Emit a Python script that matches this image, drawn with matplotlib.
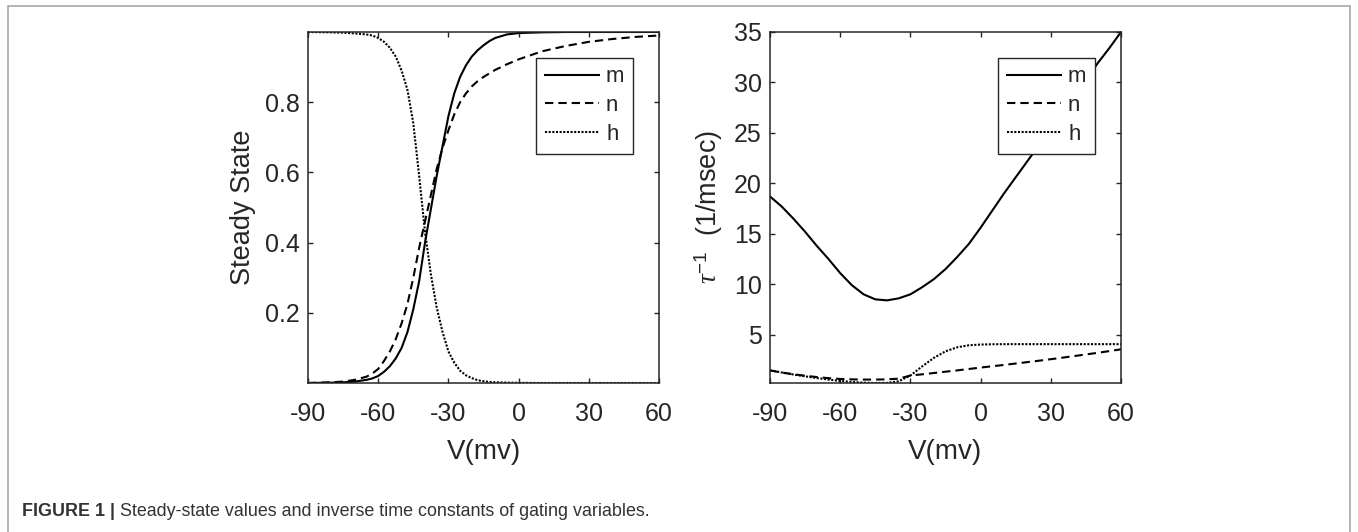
import matplotlib.pyplot as plt
from matplotlib.patches import Rectangle

# membrane potential grids (mV)
v_ss = [-90, -80, -75, -70, -65, -62.5, -60, -57.5, -55, -52.5, -50, -47.5, -45,
        -42.5, -40, -37.5, -35, -32.5, -30, -27.5, -25, -22.5, -20, -17.5, -15,
        -12.5, -10, -5, 0, 10, 20, 30, 40, 50, 60]
v_tau = [-90, -85, -80, -75, -70, -65, -60, -55, -50, -45, -40, -35, -30, -25, -20,
         -15, -10, -5, 0, 5, 10, 15, 20, 25, 30, 35, 40, 45, 50, 55, 60]

# steady state values
m_inf = [0.0, 0.001, 0.002, 0.004, 0.009, 0.013, 0.02, 0.032, 0.048, 0.07, 0.10,
         0.145, 0.21, 0.29, 0.40, 0.495, 0.59, 0.675, 0.76, 0.825, 0.872, 0.905,
         0.93, 0.948, 0.962, 0.974, 0.983, 0.993, 0.997, 0.999, 1.0, 1.0, 1.0, 1.0, 1.0]
n_inf = [0.0, 0.002, 0.004, 0.009, 0.018, 0.027, 0.04, 0.063, 0.09, 0.125, 0.17,
         0.225, 0.30, 0.385, 0.46, 0.535, 0.61, 0.67, 0.72, 0.765, 0.80, 0.825,
         0.845, 0.86, 0.872, 0.882, 0.892, 0.908, 0.922, 0.945, 0.96, 0.972, 0.98,
         0.986, 0.99]
h_inf = [1.0, 0.999, 0.998, 0.996, 0.993, 0.99, 0.983, 0.972, 0.955, 0.93, 0.89,
         0.835, 0.74, 0.59, 0.43, 0.31, 0.215, 0.145, 0.09, 0.058, 0.035, 0.022,
         0.014, 0.008, 0.005, 0.003, 0.002, 0.001, 0.0005, 0.0, 0.0, 0.0, 0.0, 0.0, 0.0]

# inverse time constants (1/msec)
m_rate = [18.7, 17.7, 16.5, 15.2, 13.8, 12.5, 11.1, 9.9, 9.0, 8.5, 8.4, 8.6, 9.0,
          9.7, 10.5, 11.5, 12.7, 14.0, 15.6, 17.3, 19.0, 20.6, 22.2, 23.8, 25.5,
          27.0, 28.6, 30.2, 31.9, 33.4, 35.0]
n_rate = [1.46, 1.25, 1.08, 0.93, 0.80, 0.69, 0.61, 0.57, 0.55, 0.55, 0.57, 0.64,
          0.95, 1.07, 1.2, 1.33, 1.46, 1.6, 1.74, 1.87, 2.0, 2.14, 2.28, 2.42, 2.57,
          2.72, 2.88, 3.04, 3.2, 3.37, 3.55]
h_rate = [1.46, 1.25, 1.05, 0.87, 0.70, 0.55, 0.41, 0.31, 0.24, 0.21, 0.22, 0.38,
          0.95, 1.85, 2.7, 3.35, 3.75, 3.95, 4.02, 4.05, 4.06, 4.06, 4.06, 4.06,
          4.06, 4.06, 4.06, 4.06, 4.06, 4.06, 4.06]

labels = ['m', 'n', 'h']
xticks = [-90, -60, -30, 0, 30, 60]

plt.rcParams['font.family'] = ['Liberation Sans', 'DejaVu Sans']
plt.rcParams['axes.unicode_minus'] = False
plt.rcParams['mathtext.fontset'] = 'custom'
plt.rcParams['mathtext.it'] = 'Liberation Serif:italic'
plt.rcParams['mathtext.rm'] = 'Liberation Sans'
gray = '#262626'
styles = ['-', (0, (4, 2.4)), (0, (1, 0.75))]

W, H = 1358, 532
fig = plt.figure(figsize=(W / 100, H / 100), dpi=100)
fig.patches.append(Rectangle((8 / W, -0.05), 1342 / W, 1.05 - 6 / H,
                             transform=fig.transFigure, fill=False,
                             edgecolor='#a8a8a8', linewidth=1.2))

ax1 = fig.add_axes([308 / W, 149 / H, 351 / W, 351 / H])
ax2 = fig.add_axes([770 / W, 149 / H, 351 / W, 351 / H])


def style_axes(ax):
    for s in ax.spines.values():
        s.set_color(gray)
        s.set_linewidth(1.1)
    ax.tick_params(direction='in', top=True, right=True, length=3.8, width=1,
                   color=gray, labelcolor=gray, labelsize=18)
    ax.tick_params(axis='x', pad=14)
    ax.tick_params(axis='y', pad=6)
    ax.set_xlim(-90, 60)
    ax.set_xticks(xticks)
    ax.set_xlabel('V(mv)', fontsize=20, color=gray, labelpad=9)


for ys, ls, lab in zip([m_inf, n_inf, h_inf], styles, labels):
    ax1.plot(v_ss, ys, color='black', linestyle=ls, linewidth=1.5, label=lab)
ax1.set_ylim(min(m_inf + n_inf + h_inf), max(m_inf + n_inf + h_inf))
ax1.set_yticks([0.2, 0.4, 0.6, 0.8])
ax1.set_ylabel('Steady State', fontsize=19.5, color=gray, labelpad=6)
style_axes(ax1)

for ys, ls, lab in zip([m_rate, n_rate, h_rate], styles, labels):
    ax2.plot(v_tau, ys, color='black', linestyle=ls, linewidth=1.5, label=lab)
ax2.set_ylim(min(m_rate + n_rate + h_rate), max(m_rate + n_rate + h_rate))
ax2.set_yticks([5, 10, 15, 20, 25, 30, 35])
ax2.set_ylabel(r'$\tau^{-1}$  (1/msec)', fontsize=19.5, color=gray, labelpad=6)
style_axes(ax2)

for ax in (ax1, ax2):
    leg = ax.legend(loc='upper right', fontsize=16, fancybox=False,
                    framealpha=1, edgecolor=gray, borderaxespad=1.15,
                    handlelength=2.45, handletextpad=0.3, borderpad=0.4,
                    labelspacing=0.35)
    leg.get_frame().set_linewidth(1.0)
    for t in leg.get_texts():
        t.set_color(gray)

cap = fig.text(22 / W, 1 - 512 / H, 'FIGURE 1 |', fontsize=12.9, weight='bold',
               color='#333333', va='center')
plt.annotate(' Steady-state values and inverse time constants of gating variables.',
             xy=(1, 0.5), xycoords=cap, va='center', fontsize=12.9,
             color='#333333', annotation_clip=False)

plt.savefig('out.png', dpi=100)
